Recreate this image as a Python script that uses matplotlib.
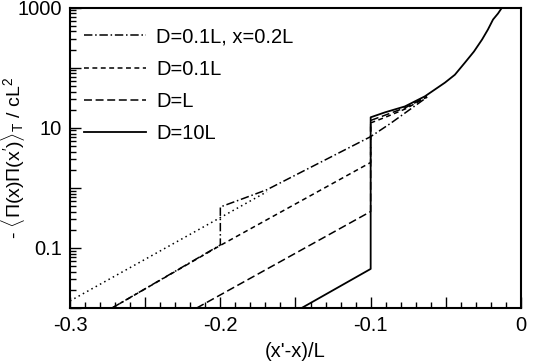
import matplotlib
matplotlib.use("Agg")
import matplotlib.pyplot as plt
from matplotlib.lines import Line2D
from matplotlib.ticker import MultipleLocator, LogLocator, NullFormatter

plt.rcParams["font.family"] = ["Liberation Sans", "DejaVu Sans"]
plt.rcParams["mathtext.fontset"] = "custom"
plt.rcParams["mathtext.rm"] = "Liberation Sans"
plt.rcParams["mathtext.it"] = "Liberation Sans"

# ---------------------------------------------------------
# Data (x = (x'-x)/L)
# ---------------------------------------------------------
# D=0.1L, x=0.2L (dash-dot)
x_dd = [-0.272, -0.2, -0.2, -0.185, -0.169, -0.1, -0.087, -0.074, -0.0625]
y_dd = [0.01, 0.112, 0.48, 0.66, 0.93, 7.1, 11.7, 20.0, 32.2]

# unlabeled dotted continuation
x_dot = [-0.3, -0.169]
y_dot = [0.0131, 0.86]

# D=0.1L (short dashes)
x_d01 = [-0.272, -0.2, -0.1, -0.1, -0.09, -0.077, -0.0625]
y_d01 = [0.01, 0.11, 2.64, 12.0, 15.0, 20.5, 32.5]

# D=L (long dashes)
x_dL = [-0.2157, -0.1, -0.1, -0.09, -0.077, -0.0625]
y_dL = [0.01, 0.403, 13.2, 16.3, 21.5, 33.0]

# D=10L (solid)
x_d10 = [-0.1459, -0.1, -0.1, -0.0905, -0.0772, -0.0639, -0.0506,
         -0.044, -0.0373, -0.0313, -0.0259, -0.022, -0.0186, -0.0153, -0.0126]
y_d10 = [0.01, 0.0447, 14.9, 18.0, 22.6, 33.3, 56.2,
         76.0, 121.0, 185.0, 293.0, 430.0, 631.0, 794.0, 1000.0]

labels = ["D=0.1L, x=0.2L", "D=0.1L", "D=L", "D=10L"]

# ---------------------------------------------------------
# Figure
# ---------------------------------------------------------
fig = plt.figure(figsize=(5.4, 3.63), dpi=100)
ax = fig.add_axes([70 / 540, 1 - 308 / 363, 451 / 540, 300.5 / 363])

lw = 1.1
sty_dd = dict(color="black", lw=lw, dashes=(5.5, 1.8, 1.0, 1.8))
sty_dot = dict(color="black", lw=lw, dashes=(1.0, 2.2))
sty_d01 = dict(color="black", lw=lw, dashes=(3.2, 2.3))
sty_dL = dict(color="black", lw=lw, dashes=(5.2, 2.4))
sty_d10 = dict(color="black", lw=1.3)

ax.plot(x_dot, y_dot, **sty_dot)
ax.plot(x_dd, y_dd, **sty_dd)
ax.plot(x_d01, y_d01, **sty_d01)
ax.plot(x_dL, y_dL, **sty_dL)
ax.plot(x_d10, y_d10, **sty_d10)

ax.set_yscale("log")
ax.set_xlim(-0.3, 0)
ax.set_ylim(0.01, 1000)

FS = 14.5

ax.xaxis.set_major_locator(MultipleLocator(0.05))
ax.xaxis.set_minor_locator(MultipleLocator(0.01))
ax.xaxis.set_major_formatter(
    plt.FuncFormatter(lambda v, p: ("0" if abs(v) < 1e-9 else f"{v:.1f}")
                      if abs(round(v * 10) - v * 10) < 1e-6 else ""))
ax.yaxis.set_major_locator(LogLocator(base=10, numticks=20))
ax.yaxis.set_minor_locator(LogLocator(base=10, subs=range(2, 10), numticks=20))
ax.yaxis.set_minor_formatter(NullFormatter())
ylab = {1000: "1000", 10: "10", 0.1: "0.1"}
ax.yaxis.set_major_formatter(
    plt.FuncFormatter(lambda v, p: next((s for k, s in ylab.items()
                                         if abs(v / k - 1) < 1e-6), "")))

ax.tick_params(which="both", direction="in", top=False, right=False,
               labelsize=FS, width=1.0, pad=6)
ax.tick_params(which="major", length=8)
ax.tick_params(which="minor", length=4)
for s in ax.spines.values():
    s.set_linewidth(1.5)

ax.set_xlabel("(x'-x)/L", fontsize=FS)
ax.xaxis.set_label_coords(0.5, -34 / 300.5)
ax.set_ylabel(r"- $\langle\Pi(\mathrm{x})\Pi(\mathrm{x'})\rangle_\mathrm{T}$ / cL$^2$",
              fontsize=14)
ax.yaxis.set_label_coords(-43 / 451, 0.5)

handles = [Line2D([], [], **sty_dd), Line2D([], [], **sty_d01),
           Line2D([], [], **sty_dL), Line2D([], [], **sty_d10)]
ax.legend(handles, labels, loc="upper left", bbox_to_anchor=(14 / 451, 1 - 20 / 300.5),
          frameon=False, fontsize=FS, handlelength=3.1, handletextpad=0.5,
          labelspacing=0.65, borderpad=0, borderaxespad=0)

fig.savefig("out.png", dpi=100)
